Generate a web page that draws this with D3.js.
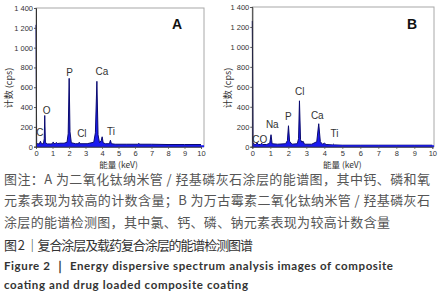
<!DOCTYPE html>
<html>
<head>
<meta charset="utf-8">
<script src="https://cdn.jsdelivr.net/npm/d3@7"></script>
<style>
  body { margin: 0; background: #fff; }
  svg { display: block; }
</style>
</head>
<body>
<div id="chart"></div>
<script>
// spectrum A: TiO2 nanotube / HA coating
var energyA = [0, 0.01, 0.04, 0.08, 0.2, 0.27, 0.33, 0.45, 0.5, 0.53, 0.57, 0.7, 0.9, 1.0, 1.04, 1.09, 1.2, 1.25, 1.3, 1.45, 1.7, 1.88, 1.95, 2.01, 2.06, 2.14, 2.4, 2.57, 2.62, 2.67, 3.1, 3.5, 3.6, 3.69, 3.76, 3.85, 3.95, 4.01, 4.07, 4.2, 4.45, 4.51, 4.57, 4.8, 5.5, 6.15, 6.22, 6.3, 7, 8, 9, 10];
var countsA = [1230, 1000, 40, 30, 28, 55, 30, 30, 80, 315, 40, 28, 28, 30, 48, 30, 35, 42, 32, 35, 35, 45, 130, 690, 150, 40, 30, 30, 45, 30, 30, 45, 140, 660, 120, 40, 60, 100, 40, 30, 30, 65, 30, 25, 25, 25, 32, 25, 25, 22, 22, 22];
// spectrum B: vancomycin loaded coating
var energyB = [0, 0.01, 0.04, 0.1, 0.2, 0.27, 0.33, 0.45, 0.52, 0.58, 0.8, 0.97, 1.04, 1.1, 1.4, 1.85, 1.95, 2.01, 2.07, 2.2, 2.5, 2.57, 2.62, 2.68, 2.75, 2.82, 2.9, 3.3, 3.58, 3.69, 3.78, 3.9, 4.01, 4.1, 4.45, 4.51, 4.57, 5, 6, 7, 8, 9, 10];
var countsB = [1260, 1000, 40, 25, 22, 38, 22, 22, 35, 22, 22, 35, 120, 30, 25, 30, 60, 210, 55, 25, 30, 80, 460, 70, 45, 55, 25, 25, 50, 230, 50, 25, 35, 22, 18, 25, 18, 15, 15, 15, 15, 15, 15];

var labelsA = ['C', 'O', 'P', 'Cl', 'Ca', 'Ti'];
var labelEnergyA = [0.24, 0.65, 2.04, 2.78, 3.99, 4.55];
var labelCountA = [148, 370, 754, 138, 764, 158];
var labelsB = ['CO', 'Na', 'P', 'Cl', 'Ca', 'Ti'];
var labelEnergyB = [0.41, 1.11, 2.0, 2.63, 3.61, 4.57];
var labelCountB = [68, 219, 300, 552, 310, 135];

var xTicks = [0, 1, 2, 3, 4, 5, 6, 7, 8, 9, 10];
var yTicks = [0, 200, 400, 600, 800, 1000, 1200, 1400];

var captionLines = [
    '图注：A 为二氧化钛纳米管 / 羟基磷灰石涂层的能谱图，其中钙、磷和氧',
    '元素表现为较高的计数含量；B 为万古霉素二氧化钛纳米管 / 羟基磷灰石',
    '涂层的能谱检测图，其中氯、钙、磷、钠元素表现为较高计数含量'
];
var titleZh = '图 2 ｜复合涂层及载药复合涂层的能谱检测图谱';
var titleEn = ['Figure 2 ｜ Energy dispersive spectrum analysis images of composite',
    'coating and drug loaded composite coating'];

var width = 439, height = 300;
var cnFont = "'Noto Sans CJK SC', 'Noto Sans', sans-serif";
var locale = d3.formatLocale({ decimal: '.', thousands: ' ', grouping: [3], currency: ['', ''] });
var fmt = locale.format(',');

var svg = d3.select('#chart').append('svg')
    .attr('width', width)
    .attr('height', height);
svg.append('rect').attr('width', width).attr('height', height).attr('fill', '#fff');

var panels = [
    { name: 'A', energy: energyA, counts: countsA, labels: labelsA, le: labelEnergyA, lc: labelCountA,
      x0: 36, x1: 201, right: 204, top: 8, yTitleX: 8, tagX: 177 },
    { name: 'B', energy: energyB, counts: countsB, labels: labelsB, le: labelEnergyB, lc: labelCountB,
      x0: 252.3, x1: 432.3, right: 434, top: 7, yTitleX: 227, tagX: 412 }
];

panels.forEach(p => {
    var bottom = 146.7;
    var x = d3.scaleLinear().domain([0, 10]).range([p.x0, p.x1]);
    var y = d3.scaleLinear().domain([0, 1400]).range([bottom, p.top]);
    var g = svg.append('g');

    // frame
    g.append('rect')
        .attr('x', p.x0).attr('y', p.top)
        .attr('width', p.right - p.x0).attr('height', bottom - p.top)
        .attr('fill', 'none').attr('stroke', '#a8a8a8').attr('stroke-width', 1);

    var pts = p.energy.map((e, i) => [e, p.counts[i]]);
    var area = d3.area()
        .x(d => x(d[0]))
        .y0(y(0))
        .y1(d => y(d[1]));
    var line = d3.line()
        .x(d => x(d[0]))
        .y(d => y(d[1]));

    g.append('path').datum(pts)
        .attr('d', area)
        .attr('fill', '#1a1af0');
    g.append('path').datum(pts)
        .attr('d', line)
        .attr('fill', 'none')
        .attr('stroke', '#0a0a70')
        .attr('stroke-width', 1);
    g.append('line')
        .attr('x1', p.x0).attr('x2', p.right)
        .attr('y1', bottom - 0.5).attr('y2', bottom - 0.5)
        .attr('stroke', '#1a1af0').attr('stroke-width', 2);

    // axes
    var xAxis = g.append('g')
        .attr('transform', 'translate(0,' + bottom + ')')
        .call(d3.axisBottom(x).tickValues(xTicks).tickSize(2).tickPadding(1.5));
    var yAxis = g.append('g')
        .attr('transform', 'translate(' + p.x0 + ',0)')
        .call(d3.axisLeft(y).tickValues(yTicks).tickSize(2).tickPadding(1).tickFormat(fmt));
    [xAxis, yAxis].forEach(a => {
        a.select('.domain').attr('stroke', '#333');
        a.selectAll('line').attr('stroke', '#555');
        a.selectAll('text')
            .attr('fill', '#333')
            .style('font-family', "'Liberation Sans', Arial, sans-serif")
            .style('font-size', '7.5px');
    });

    // peak labels
    g.selectAll('.peak')
        .data(p.labels)
        .join('text')
        .attr('class', 'peak')
        .attr('x', (d, i) => x(p.le[i]))
        .attr('y', (d, i) => y(p.lc[i]))
        .attr('text-anchor', 'middle')
        .attr('dominant-baseline', 'central')
        .attr('fill', '#333')
        .style('font-family', "'Liberation Sans', Arial, sans-serif")
        .style('font-size', '10px')
        .text(d => d);

    // panel tag
    g.append('text')
        .attr('x', p.tagX).attr('y', 29)
        .attr('text-anchor', 'middle')
        .attr('fill', '#111')
        .style('font-family', "'Liberation Sans', Arial, sans-serif")
        .style('font-weight', 'bold')
        .style('font-size', '14px')
        .text(p.name);

    // axis titles
    g.append('text')
        .attr('transform', 'translate(' + p.yTitleX + ',' + 88 + ') rotate(-90)')
        .attr('text-anchor', 'middle')
        .attr('dominant-baseline', 'central')
        .attr('fill', '#333')
        .style('font-family', cnFont)
        .style('font-size', '9px')
        .text('计数 (cps)');
    g.append('text')
        .attr('x', (p.x0 + p.x1) / 2).attr('y', 163.5)
        .attr('text-anchor', 'middle')
        .attr('dominant-baseline', 'central')
        .attr('fill', '#333')
        .style('font-family', cnFont)
        .style('font-size', '8.5px')
        .text('能量 (keV)');
});

// caption
var capLen = [426, 426, 386];
svg.selectAll('.cap')
    .data(captionLines)
    .join('text')
    .attr('class', 'cap')
    .attr('x', 4)
    .attr('y', (d, i) => 178 + i * 21.5)
    .attr('dominant-baseline', 'central')
    .attr('textLength', (d, i) => capLen[i])
    .attr('lengthAdjust', 'spacing')
    .attr('fill', '#555')
    .style('font-family', cnFont)
    .style('font-size', '13px')
    .text(d => d);

svg.append('text')
    .attr('x', 4).attr('y', 244)
    .attr('dominant-baseline', 'central')
    .attr('textLength', 249)
    .attr('lengthAdjust', 'spacing')
    .attr('fill', '#333')
    .style('font-family', cnFont)
    .style('font-size', '13px')
    .text(titleZh);

svg.selectAll('.en')
    .data(titleEn)
    .join('text')
    .attr('class', 'en')
    .attr('x', 4)
    .attr('y', (d, i) => 265 + i * 19.5)
    .attr('dominant-baseline', 'central')
    .attr('textLength', (d, i) => i == 0 ? 389 : 244)
    .attr('lengthAdjust', 'spacing')
    .attr('fill', '#333')
    .style('font-family', "Lato, 'Open Sans', sans-serif")
    .style('font-weight', 'bold')
    .style('font-size', '11.5px')
    .text(d => d);
</script>
</body>
</html>
